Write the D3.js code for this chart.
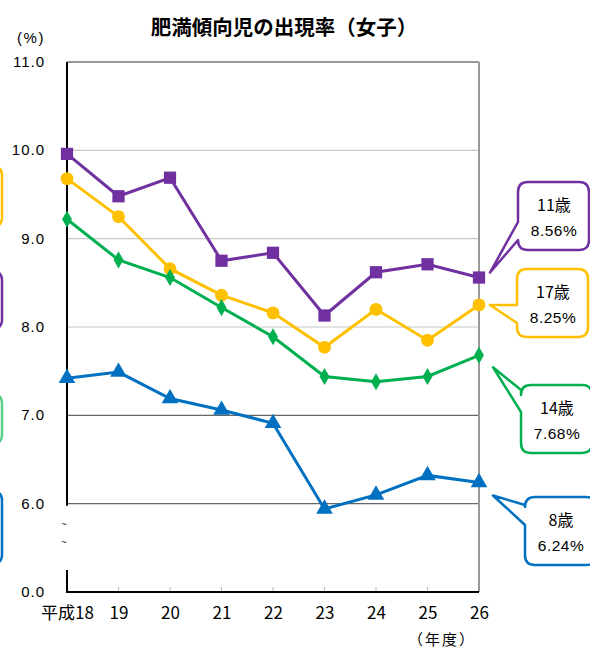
<!DOCTYPE html>
<html lang="ja">
<head>
<meta charset="UTF-8">
<title>肥満傾向児の出現率（女子）</title>
<script src="https://cdnjs.cloudflare.com/ajax/libs/d3/7.8.5/d3.min.js"></script>
<style>
    body { margin: 0; background: #fff; overflow: hidden; }
    svg { display: block; font-family: "Liberation Sans", Arial, "Noto Sans CJK JP", sans-serif; }
</style>
</head>
<body>
<svg id="chart" width="590" height="649"></svg>
<script>
    // data
    const years = ["平成18", "19", "20", "21", "22", "23", "24", "25", "26"];
    const age11 = [9.96, 9.48, 9.69, 8.75, 8.84, 8.13, 8.62, 8.71, 8.56];
    const age17 = [9.68, 9.25, 8.66, 8.36, 8.16, 7.77, 8.20, 7.85, 8.25];
    const age14 = [9.22, 8.76, 8.56, 8.22, 7.89, 7.44, 7.38, 7.44, 7.68];
    const age8  = [7.42, 7.49, 7.19, 7.06, 6.91, 5.94, 6.10, 6.32, 6.24];
    const yTicks = [5, 6, 7, 8, 9, 10, 11];
    const yTickLabels = ["0.0", "6.0", "7.0", "8.0", "9.0", "10.0", "11.0"];

    const series = [
        { name: "11歳", values: age11, color: "#7030A0", marker: d3.symbolSquare, size: 150 },
        { name: "17歳", values: age17, color: "#FFC000", marker: d3.symbolCircle, size: 130 },
        { name: "14歳", values: age14, color: "#00B050", marker: d3.symbolDiamond, size: 85 },
        { name: "8歳",  values: age8,  color: "#0070C0", marker: d3.symbolTriangle, size: 120 }
    ];

    const svg = d3.select("#chart");
    const mLeft = 67, mRight = 479, mTop = 62, mBottom = 592;
    const narrow = "'Liberation Sans Narrow', 'Arial Narrow', 'Noto Sans CJK JP', sans-serif";

    const x = d3.scalePoint().domain(years).range([mLeft, mRight]);
    // broken axis: the 5.0 slot is shown as 0.0
    const y = d3.scaleLinear().domain([5, 11]).range([mBottom, mTop]);

    // title
    svg.append("text")
        .attr("x", 284).attr("y", 35)
        .attr("text-anchor", "middle")
        .style("font-family", "'Noto Sans CJK JP', sans-serif")
        .style("font-weight", "bold")
        .style("font-size", "20.5px")
        .text("肥満傾向児の出現率（女子）");

    svg.append("text")
        .attr("x", 31).attr("y", 43)
        .attr("text-anchor", "middle")
        .style("font-size", "15px")
        .style("letter-spacing", "1.5px")
        .text("(%)");

    // gridlines
    svg.append("g").selectAll("line")
        .data(yTicks.filter(v => v > 5 && v < 11))
        .join("line")
        .attr("x1", mLeft).attr("x2", mRight)
        .attr("y1", d => y(d)).attr("y2", d => y(d))
        .attr("stroke", d => d >= 8 ? "#c8c8c8" : "#666")
        .attr("stroke-width", 1.2);

    // frame top / right
    svg.append("line").attr("x1", mLeft).attr("x2", mRight).attr("y1", mTop).attr("y2", mTop)
        .attr("stroke", "#999").attr("stroke-width", 2);
    svg.append("line").attr("x1", mRight).attr("x2", mRight).attr("y1", mTop).attr("y2", mBottom)
        .attr("stroke", "#999").attr("stroke-width", 2);

    // bottom axis
    const xAxis = svg.append("g")
        .attr("transform", `translate(0,${mBottom})`)
        .call(d3.axisBottom(x).tickSize(0).tickPadding(15));
    xAxis.select(".domain").remove();
    xAxis.selectAll("text").style("font-size", "17px").attr("fill", "#000")
        .style("font-family", narrow);
    svg.append("g").selectAll("line")
        .data(years.slice(1, -1))
        .join("line")
        .attr("x1", d => x(d)).attr("x2", d => x(d))
        .attr("y1", mBottom).attr("y2", mBottom - 5)
        .attr("stroke", "#bbb");
    svg.append("line").attr("x1", mLeft - 1).attr("x2", mRight).attr("y1", mBottom).attr("y2", mBottom)
        .attr("stroke", "#000").attr("stroke-width", 2);

    // left axis with break
    svg.append("line").attr("x1", mLeft).attr("x2", mLeft).attr("y1", mTop).attr("y2", y(6) + 2)
        .attr("stroke", "#000").attr("stroke-width", 2);
    svg.append("line").attr("x1", mLeft).attr("x2", mLeft).attr("y1", 570).attr("y2", mBottom)
        .attr("stroke", "#000").attr("stroke-width", 2);
    svg.append("g").selectAll("text")
        .data([528, 546])
        .join("text")
        .attr("x", 64).attr("y", d => d)
        .attr("text-anchor", "middle")
        .style("font-size", "10px")
        .attr("fill", "#333")
        .text("~");

    svg.append("g").selectAll("text")
        .data(yTicks)
        .join("text")
        .attr("x", 45).attr("y", d => y(d) + 5)
        .attr("text-anchor", "end")
        .style("font-size", "15px")
        .style("letter-spacing", "1px")
        .text((d, i) => yTickLabels[i]);

    svg.append("text")
        .attr("x", 442).attr("y", 645)
        .attr("text-anchor", "middle")
        .style("font-family", "'Noto Sans CJK JP', sans-serif")
        .style("font-size", "15px")
        .style("letter-spacing", "2px")
        .text("（年度）");

    // lines and markers
    const line = d3.line().x((d, i) => x(years[i])).y(d => y(d));
    series.forEach(s => {
        svg.append("path")
            .datum(s.values)
            .attr("d", line)
            .attr("fill", "none")
            .attr("stroke", s.color)
            .attr("stroke-width", 3);
        svg.append("g").selectAll("path")
            .data(s.values)
            .join("path")
            .attr("transform", (d, i) => `translate(${x(years[i])},${y(d)})`)
            .attr("d", d3.symbol().type(s.marker).size(s.size))
            .attr("fill", s.color);
    });

    // callout with tail on the left edge
    function callout(bx, by, w, h, t1, t2, tx, ty) {
        const r = 10;
        return `M${bx + r},${by} H${bx + w - r} Q${bx + w},${by} ${bx + w},${by + r}` +
            ` V${by + h - r} Q${bx + w},${by + h} ${bx + w - r},${by + h}` +
            ` H${bx + r} Q${bx},${by + h} ${bx},${by + h - r}` +
            ` V${by + t2} L${tx},${ty} L${bx},${by + t1}` +
            ` V${by + r} Q${bx},${by} ${bx + r},${by} Z`;
    }

    const last = years.length - 1;
    const boxes = [
        { s: series[0], bx: 518, by: 182, t1: 40, t2: 58, dx: 11, dy: -5 },
        { s: series[1], bx: 517, by: 269, t1: 36, t2: 54, dx: 11, dy: 0 },
        { s: series[2], bx: 521, by: 385, t1: 5, t2: 27, dx: 14, dy: 12 },
        { s: series[3], bx: 525, by: 497, t1: 8, t2: 28, dx: 14, dy: 13 }
    ];
    boxes.forEach(b => {
        const v = b.s.values[last];
        const tx = x(years[last]) + b.dx, ty = y(v) + b.dy;
        svg.append("path")
            .attr("d", callout(b.bx, b.by, 71, 68, b.t1, b.t2, tx, ty))
            .attr("fill", "#fff")
            .attr("stroke", b.s.color)
            .attr("stroke-width", 2.5)
            .attr("stroke-linejoin", "round");
        svg.append("text")
            .attr("x", b.bx + 36).attr("y", b.by + 29)
            .attr("text-anchor", "middle")
            .style("font-size", "16px")
            .style("font-family", narrow)
            .text(b.s.name);
        svg.append("text")
            .attr("x", b.bx + 36).attr("y", b.by + 54)
            .attr("text-anchor", "middle")
            .style("font-size", "15.5px")
            .style("letter-spacing", "0.5px")
            .text(v.toFixed(2) + "%");
    });

    // callouts cut off at the left edge
    const leftBoxes = [
        { color: "#FFC000", y0: 165, y1: 228 },
        { color: "#7030A0", y0: 270, y1: 330 },
        { color: "#5ccf86", y0: 393, y1: 445 },
        { color: "#0070C0", y0: 490, y1: 565 }
    ];
    svg.append("g").selectAll("rect")
        .data(leftBoxes)
        .join("rect")
        .attr("x", -70).attr("width", 72)
        .attr("y", d => d.y0).attr("height", d => d.y1 - d.y0)
        .attr("rx", 10)
        .attr("fill", "#fff")
        .attr("stroke", d => d.color)
        .attr("stroke-width", 2.5);
</script>
</body>
</html>
